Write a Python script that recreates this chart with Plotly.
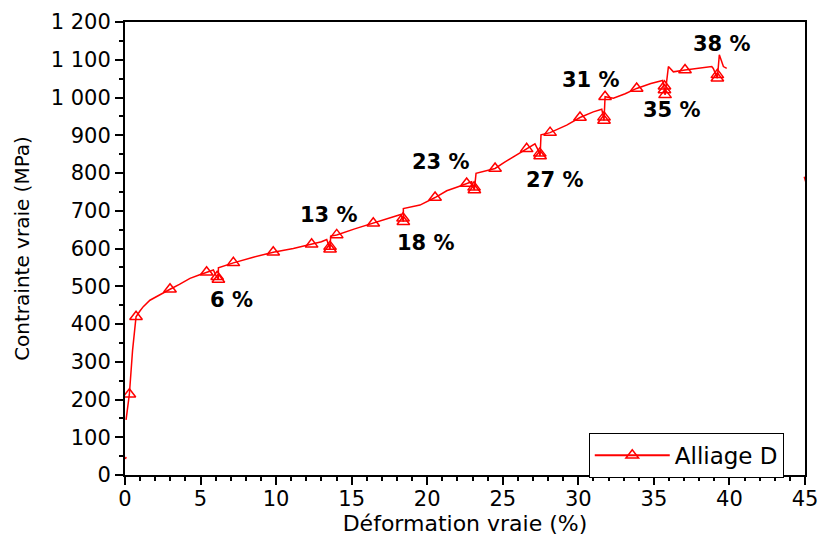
import plotly.graph_objects as go

# ---- data ----
strain = [0.03, 0.07, None, 0.07, 0.29, 0.5, 0.73, 1.0, 1.21, 1.65, 2.3, 2.98, 3.6, 4.3, 4.9, 5.4, 5.85,
          6.0, 6.1, 6.18, 6.18, 7.17, 8.49, 9.81, 11.14, 12.35, 13.0, 13.35,
          13.5, 13.57, 13.61, 14.01, 15.2, 16.43, 17.3, 18.09, 18.25,
          18.4, 18.42, 18.42, 19.52, 20.52, 21.29, 22.0, 22.61, 22.94,
          23.05, 23.12, 23.23, 24.49, 25.1, 25.7, 26.58, 27.13,
          27.35, 27.47, 27.53, 28.13, 29.23, 30.11, 30.99, 31.55,
          31.65, 31.7, 31.77, 32.32, 33.1, 33.86, 34.8, 35.58,
          35.68, 35.74, 35.96, 36.29, 37.06, 38.0, 38.83, 38.93,
          39.1, 39.2, 39.33, 39.6, 39.82]
stress = [42, 48, None, 146, 214, 330, 419, 435, 446, 463, 478, 492, 505, 521, 530, 537, 543,
          530, 522, 518, 549, 562, 577, 590, 600, 611, 618, 624,
          605, 598, 633, 636, 652, 667, 678, 689, 690,
          675, 671, 706, 715, 735, 753, 763, 772, 777,
          762, 755, 799, 812, 828, 843, 864, 877,
          860, 845, 901, 907, 927, 947, 962, 969,
          950, 939, 1002, 998, 1010, 1024, 1037, 1045,
          1025, 1007, 1082, 1068, 1073, 1078, 1082, 1077,
          1060, 1051, 1113, 1082, 1077]

marker_strain = [0.29, 0.73, 2.98, 5.4, 6.1, 6.18, 7.17, 9.81, 12.35, 13.57, 13.57, 14.01, 16.43,
                 18.42, 18.4, 20.52, 22.61, 23.12, 23.1, 24.49, 26.58, 27.47, 27.45, 28.13,
                 30.11, 31.7, 31.7, 31.77, 33.86, 35.74, 35.7, 35.7, 37.06, 39.2, 39.2]
marker_stress = [214, 419, 492, 537, 525, 518, 562, 590, 611, 598, 605, 636, 667,
                 671, 680, 735, 772, 755, 762, 812, 864, 845, 852, 907,
                 947, 939, 948, 1002, 1024, 1007, 1020, 1030, 1073, 1051, 1060]

tail_strain = [44.95, 45.1]
tail_stress = [790, 770]

labels_text = ["6 %", "13 %", "18 %", "23 %", "27 %", "31 %", "35 %", "38 %"]
labels_x = [7.05, 13.5, 19.92, 20.88, 28.44, 30.82, 36.18, 39.53]
labels_y = [463, 689, 615, 830, 781, 1046, 967, 1143]

y_tickvals = list(range(0, 1201, 100))
y_ticktext = ["0", "100", "200", "300", "400", "500", "600", "700", "800", "900",
              "1 000", "1 100", "1 200"]

RED = "#ff0000"

fig = go.Figure()
fig.add_trace(go.Scatter(x=strain, y=stress, mode="lines",
                         line=dict(color=RED, width=1.5), showlegend=False,
                         connectgaps=False, hoverinfo="skip"))
fig.add_trace(go.Scatter(x=tail_strain, y=tail_stress, mode="lines",
                         line=dict(color=RED, width=1.5), showlegend=False))
fig.add_trace(go.Scatter(x=marker_strain, y=marker_stress, mode="markers",
                         marker=dict(symbol="triangle-up-open", size=11, color=RED,
                                     line=dict(color=RED, width=1.5)),
                         showlegend=False))
fig.add_trace(go.Scatter(x=[None], y=[None], mode="lines+markers", name="Alliage D",
                         line=dict(color=RED, width=2),
                         marker=dict(symbol="triangle-up-open", size=11, color=RED,
                                     line=dict(color=RED, width=1.5))))

for t, x, y in zip(labels_text, labels_x, labels_y):
    fig.add_annotation(x=x, y=y, text=t, showarrow=False, xanchor="center", yanchor="middle",
                       font=dict(family="DejaVu Sans", size=21, color="black", weight="bold"))

fig.update_layout(
    width=819, height=536,
    margin=dict(l=125, r=14, t=22, b=61, autoexpand=False),
    paper_bgcolor="white", plot_bgcolor="white",
    font=dict(family="DejaVu Sans", color="black", size=20),
    legend=dict(x=0.682, y=0.093, xanchor="left", yanchor="top",
                bordercolor="black", borderwidth=1, bgcolor="white",
                font=dict(family="DejaVu Sans", size=23, color="black"),
                itemwidth=75, tracegroupgap=0),
)
fig.update_xaxes(range=[0, 45], tick0=0, dtick=5, ticks="outside", ticklen=8, tickwidth=2,
                 tickcolor="black", showline=True, linewidth=2, linecolor="black", mirror=True,
                 showgrid=False, zeroline=False, automargin=False, ticklabeloverflow="allow",
                 ticklabelstandoff=-4,
                 minor=dict(dtick=1, ticks="outside", ticklen=4, tickwidth=1.5, tickcolor="black"),
                 tickfont=dict(family="DejaVu Sans", size=21),
                 title=dict(text="Déformation vraie (%)", standoff=7,
                            font=dict(family="DejaVu Sans", size=22)))
fig.update_yaxes(range=[0, 1200], tickvals=y_tickvals, ticktext=y_ticktext,
                 ticks="outside", ticklen=8, tickwidth=2, tickcolor="black",
                 showline=True, linewidth=2, linecolor="black", mirror=True,
                 showgrid=False, zeroline=False, automargin=False,
                 minor=dict(dtick=50, ticks="outside", ticklen=4, tickwidth=1.5, tickcolor="black"),
                 tickfont=dict(family="DejaVu Sans", size=21),
                 title=dict(text="Contrainte vraie (MPa)", standoff=16,
                            font=dict(family="DejaVu Sans", size=20)))

fig.write_html("out.html", config={"displayModeBar": False},
               post_script="document.body.style.margin='0px';")
